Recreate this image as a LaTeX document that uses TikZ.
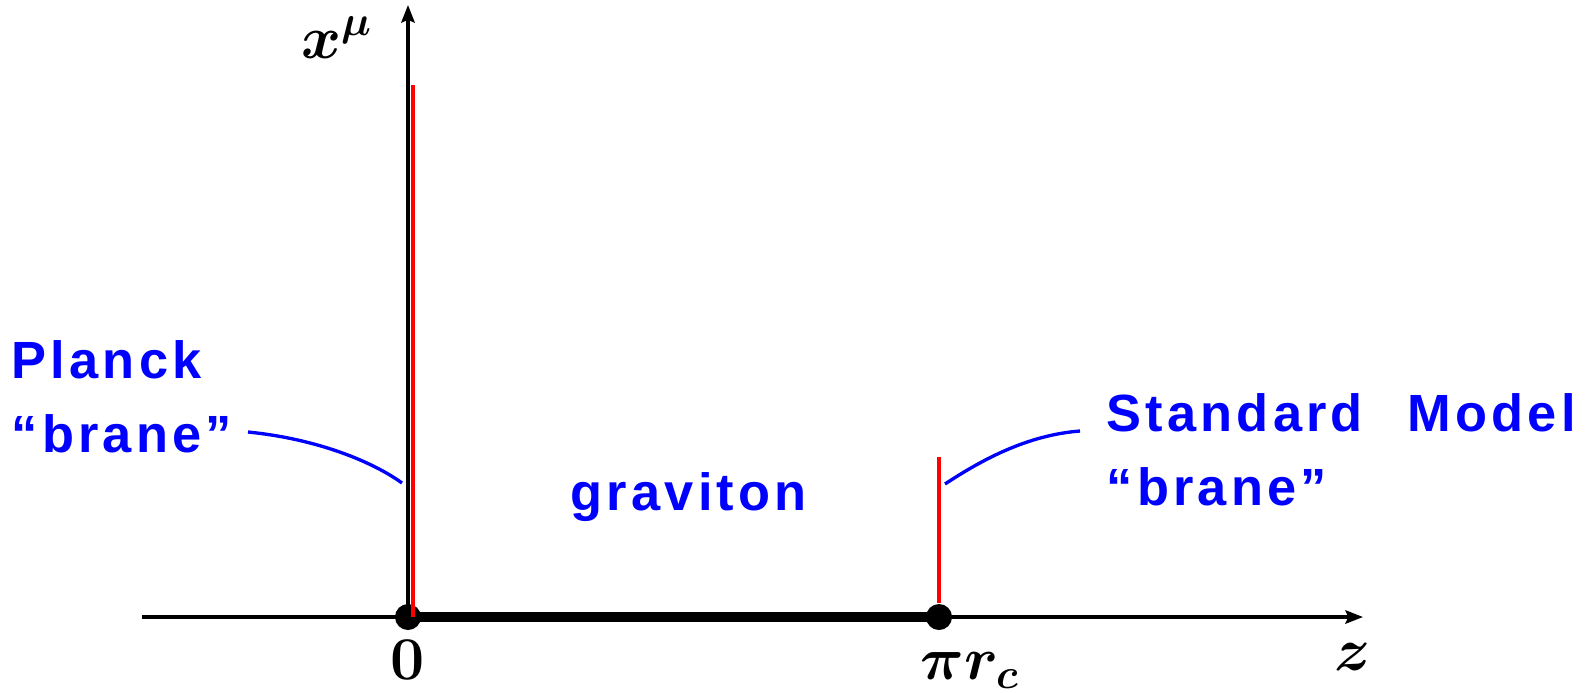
\documentclass[tikz,border=0pt]{standalone}
\usepackage{amsmath,bm}
\usepackage{fontspec}
\newfontfamily\branefont[LetterSpace=8.0]{Liberation Sans}
\usetikzlibrary{arrows.meta}
\definecolor{braneblue}{RGB}{0,0,255}
\definecolor{branered}{RGB}{255,0,0}

\begin{document}
\begin{tikzpicture}[
  axis/.style={line width=0.95pt,-{Stealth[length=5pt,width=3.8pt,inset=0.8pt]}},
  mathlbl/.style={font=\fontsize{16.4}{20}\selectfont,inner sep=0pt},
  bluetext/.style={font=\branefont\bfseries\fontsize{14.9}{20.8}\selectfont,text=braneblue,inner sep=0pt,align=left},
  pointer/.style={braneblue,line width=0.95pt},
  endpt/.style={circle,fill=black,inner sep=0pt,minimum size=2.6mm},
  brane/.style={branered,line width=1pt}]
\useasboundingbox (-4.08,-0.75) rectangle (11.83,6.17);
% Axes
\coordinate (zstart) at (-2.66,0);
\coordinate (zend) at (9.55,0);
\coordinate (origin) at (0,0);
\coordinate (xtop) at (0,6.12);
\draw[axis] (zstart) -- (zend);
\draw[axis] (origin) -- (xtop);
\node[mathlbl,anchor=base] (xlbl) at (-0.71,5.59) {$\bm{x^{\mu}}$};
\node[mathlbl,anchor=base] (zlbl) at (9.45,-0.53) {$\bm{z}$};
% Extra dimension between the two branes
\node[endpt] (p0) at (0,0) {};
\node[endpt] (p1) at (5.31,0) {};
\draw[line width=3pt] (p0.center) -- (p1.center);
\node[mathlbl,anchor=base] (zero) at (0,-0.62) {$\bm{0}$};
\node[mathlbl,anchor=base] (pirc) at (5.62,-0.62) {$\bm{\pi r_c}$};
% Branes
\coordinate (planck-top) at (0.05,5.32);
\draw[brane] (0.05,0) -- (planck-top);
\coordinate (sm-top) at (5.31,1.60);
\draw[brane] (p1.north) -- (sm-top);
% Labels (base = last line)
\node[bluetext,anchor=base west] (planck) at (-3.97,1.65) {Planck\\“brane”};
\node[bluetext,anchor=base west] (sm) at (6.98,1.12) {Standard\kern2.6mm\ Model\\“brane”};
\node[bluetext,anchor=base west] (grav) at (1.62,1.07) {graviton};
\coordinate (planck-from) at (-1.60,1.85);
\coordinate (planck-to) at (-0.06,1.34);
\draw[pointer] (planck-from) .. controls (-0.9,1.78) and (-0.35,1.55) .. (planck-to);
\coordinate (sm-from) at (6.72,1.86);
\coordinate (sm-to) at (5.37,1.33);
\draw[pointer] (sm-from) .. controls (6.2,1.82) and (5.75,1.58) .. (sm-to);
\end{tikzpicture}
\end{document}
